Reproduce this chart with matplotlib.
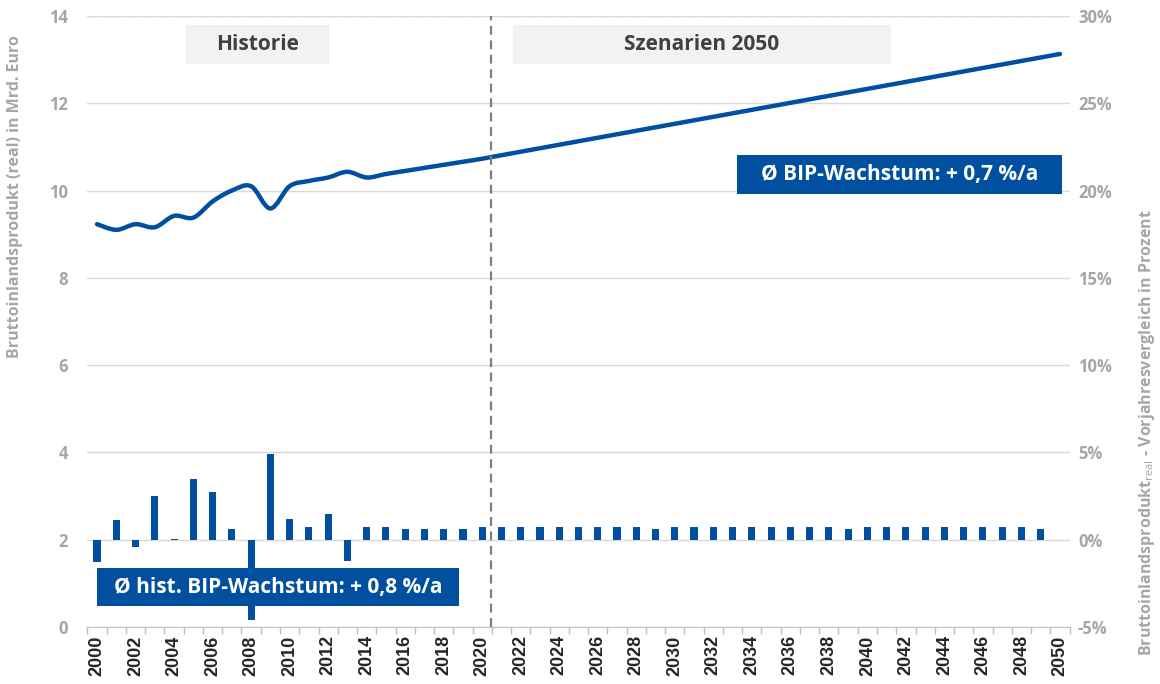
import matplotlib
matplotlib.use("Agg")
import matplotlib.pyplot as plt
import numpy as np
from matplotlib.path import Path
from matplotlib.patches import PathPatch, Rectangle

# Bruttoinlandsprodukt (real) in Mrd. Euro, 2000-2050
jahre_bip = list(range(2000, 2051))
bip = [9.23, 9.10, 9.23, 9.16, 9.42, 9.38, 9.75, 10.00, 10.10, 9.59,
       10.10, 10.22, 10.30, 10.43, 10.30, 10.38, 10.45, 10.52, 10.59, 10.66,
       10.73, 10.81, 10.89, 10.97, 11.05, 11.13, 11.21, 11.29, 11.37, 11.45,
       11.53, 11.61, 11.69, 11.77, 11.85, 11.93, 12.01, 12.09, 12.17, 12.25,
       12.33, 12.41, 12.49, 12.57, 12.65, 12.73, 12.81, 12.89, 12.97, 13.05,
       13.13]

# Vorjahresvergleich in Prozent, 2000-2049
jahre_wachstum = list(range(2000, 2050))
wachstum = [-1.3, 1.15, -0.4, 2.5, 0.05, 3.5, 2.75, 0.6, -4.6, 4.9,
            1.2, 0.75, 1.5, -1.2, 0.7, 0.7, 0.63, 0.63, 0.63, 0.63,
            0.7, 0.7, 0.7, 0.7, 0.7, 0.7, 0.7, 0.7, 0.7, 0.63,
            0.7, 0.7, 0.7, 0.7, 0.7, 0.7, 0.7, 0.7, 0.7, 0.63,
            0.7, 0.7, 0.7, 0.7, 0.7, 0.7, 0.7, 0.7, 0.7, 0.63]

links_ticks = [0, 2, 4, 6, 8, 10, 12, 14]
rechts_ticks = [-5, 0, 5, 10, 15, 20, 25, 30]

BLAU = "#00509f"
GRAU = "#a6a6a6"

plt.rcParams["font.family"] = ["Open Sans", "DejaVu Sans"]
plt.rcParams["mathtext.fontset"] = "custom"
plt.rcParams["mathtext.rm"] = "Open Sans"


def glatter_pfad(x, y):
    # geglättete Linie wie in Excel (Bezier durch die Datenpunkte)
    pkt = np.column_stack([x, y]).astype(float)
    n = len(pkt)
    verts = [pkt[0]]
    codes = [Path.MOVETO]
    for i in range(n - 1):
        p0 = pkt[max(i - 1, 0)]
        p1 = pkt[i]
        p2 = pkt[i + 1]
        p3 = pkt[min(i + 2, n - 1)]
        verts += [p1 + (p2 - p0) / 6, p2 - (p3 - p1) / 6, p2]
        codes += [Path.CURVE4] * 3
    return Path(verts, codes)


def px(x, y):
    return x / 1160, 1 - y / 684


fig = plt.figure(figsize=(11.6, 6.84), dpi=100)
ax = fig.add_axes([87.4 / 1160, 57 / 684, (1069.6 - 87.4) / 1160, (627 - 16) / 684])
ax2 = ax.twinx()

ax.set_xlim(1999.5, 2050.5)
ax.set_ylim(0, 14)
ax2.set_ylim(-5, 30)

ax.set_yticks(links_ticks)
ax.grid(axis="y", color="#d9d9d9", lw=1)
ax.set_axisbelow(True)
ax.tick_params(axis="y", length=0, labelsize=12, labelcolor=GRAU, pad=14)
for lab in ax.get_yticklabels():
    lab.set_fontweight("bold")

ax2.set_yticks(rechts_ticks)
ax2.set_yticklabels([f"{t}%" for t in rechts_ticks])
ax2.tick_params(axis="y", length=0, labelsize=12, labelcolor=GRAU, pad=6)
for lab in ax2.get_yticklabels():
    lab.set_fontweight("bold")

ax.set_xticks(list(range(2000, 2051, 2)))
ax.set_xticklabels([str(j) for j in range(2000, 2051, 2)], rotation=90,
                   fontsize=13, fontweight="bold", color="#262626",
                   family="Liberation Sans")
ax.set_xticks(np.arange(1999.5, 2051, 1), minor=True)
ax.tick_params(axis="x", which="major", length=0, pad=6)
ax.tick_params(axis="x", which="minor", length=5, color="#bfbfbf", width=1)

for a in (ax, ax2):
    for s in ("top", "left", "right"):
        a.spines[s].set_visible(False)
ax.spines["bottom"].set_color("#bfbfbf")
ax2.spines["bottom"].set_visible(False)
ax.axhline(14, color="#d9d9d9", lw=1, ls=(0, (3, 1)))

# Balken Wachstum
ax2.bar(jahre_wachstum, wachstum, width=0.37, color=BLAU, zorder=3)

# Linie BIP
ax.add_patch(PathPatch(glatter_pfad(jahre_bip, bip), fill=False,
                       edgecolor=BLAU, lw=3.2, capstyle="round", zorder=4))

# Trennlinie Historie / Szenarien
ax.axvline(2020.45, color="#7f7f7f", lw=1.6, ls=(0, (4, 2.5)), zorder=5)

# Kästen oben
for x0, x1, text in [(186, 330, "Historie"), (513, 891, "Szenarien 2050")]:
    fx0, fy0 = px(x0, 64)
    fx1, fy1 = px(x1, 25)
    fig.patches.append(Rectangle((fx0, fy0), fx1 - fx0, fy1 - fy0, transform=fig.transFigure,
                                 facecolor="#f2f2f2", edgecolor="none", zorder=5))
    fig.text((fx0 + fx1) / 2, (fy0 + fy1) / 2, text, ha="center", va="center",
             fontsize=15, fontweight="bold", color="#404040", zorder=6)

# blaue Kästen
for x0, y0, x1, y1, text in [(737, 194, 1062, 155, "Ø BIP-Wachstum: + 0,7 %/a"),
                             (97, 606, 459, 568, "Ø hist. BIP-Wachstum: + 0,8 %/a")]:
    fx0, fy0 = px(x0, y0)
    fx1, fy1 = px(x1, y1)
    fig.patches.append(Rectangle((fx0, fy0), fx1 - fx0, fy1 - fy0, transform=fig.transFigure,
                                 facecolor=BLAU, edgecolor="none", zorder=5))
    fig.text((fx0 + fx1) / 2, (fy0 + fy1) / 2, text, ha="center", va="center",
             fontsize=15, fontweight="bold", color="white", zorder=6)

# Achsentitel
fig.text(*px(15, 197), "Bruttoinlandsprodukt (real) in Mrd. Euro", rotation=90,
         ha="center", va="center", fontsize=11.5, fontweight="bold", color=GRAU)
fig.text(*px(1147, 433), r"Bruttoinlandsprodukt$_{\mathrm{real}}$ - Vorjahresvergleich in Prozent",
         rotation=90, ha="center", va="center", fontsize=11.5, fontweight="bold", color=GRAU)

fig.savefig("out.png", dpi=100)
